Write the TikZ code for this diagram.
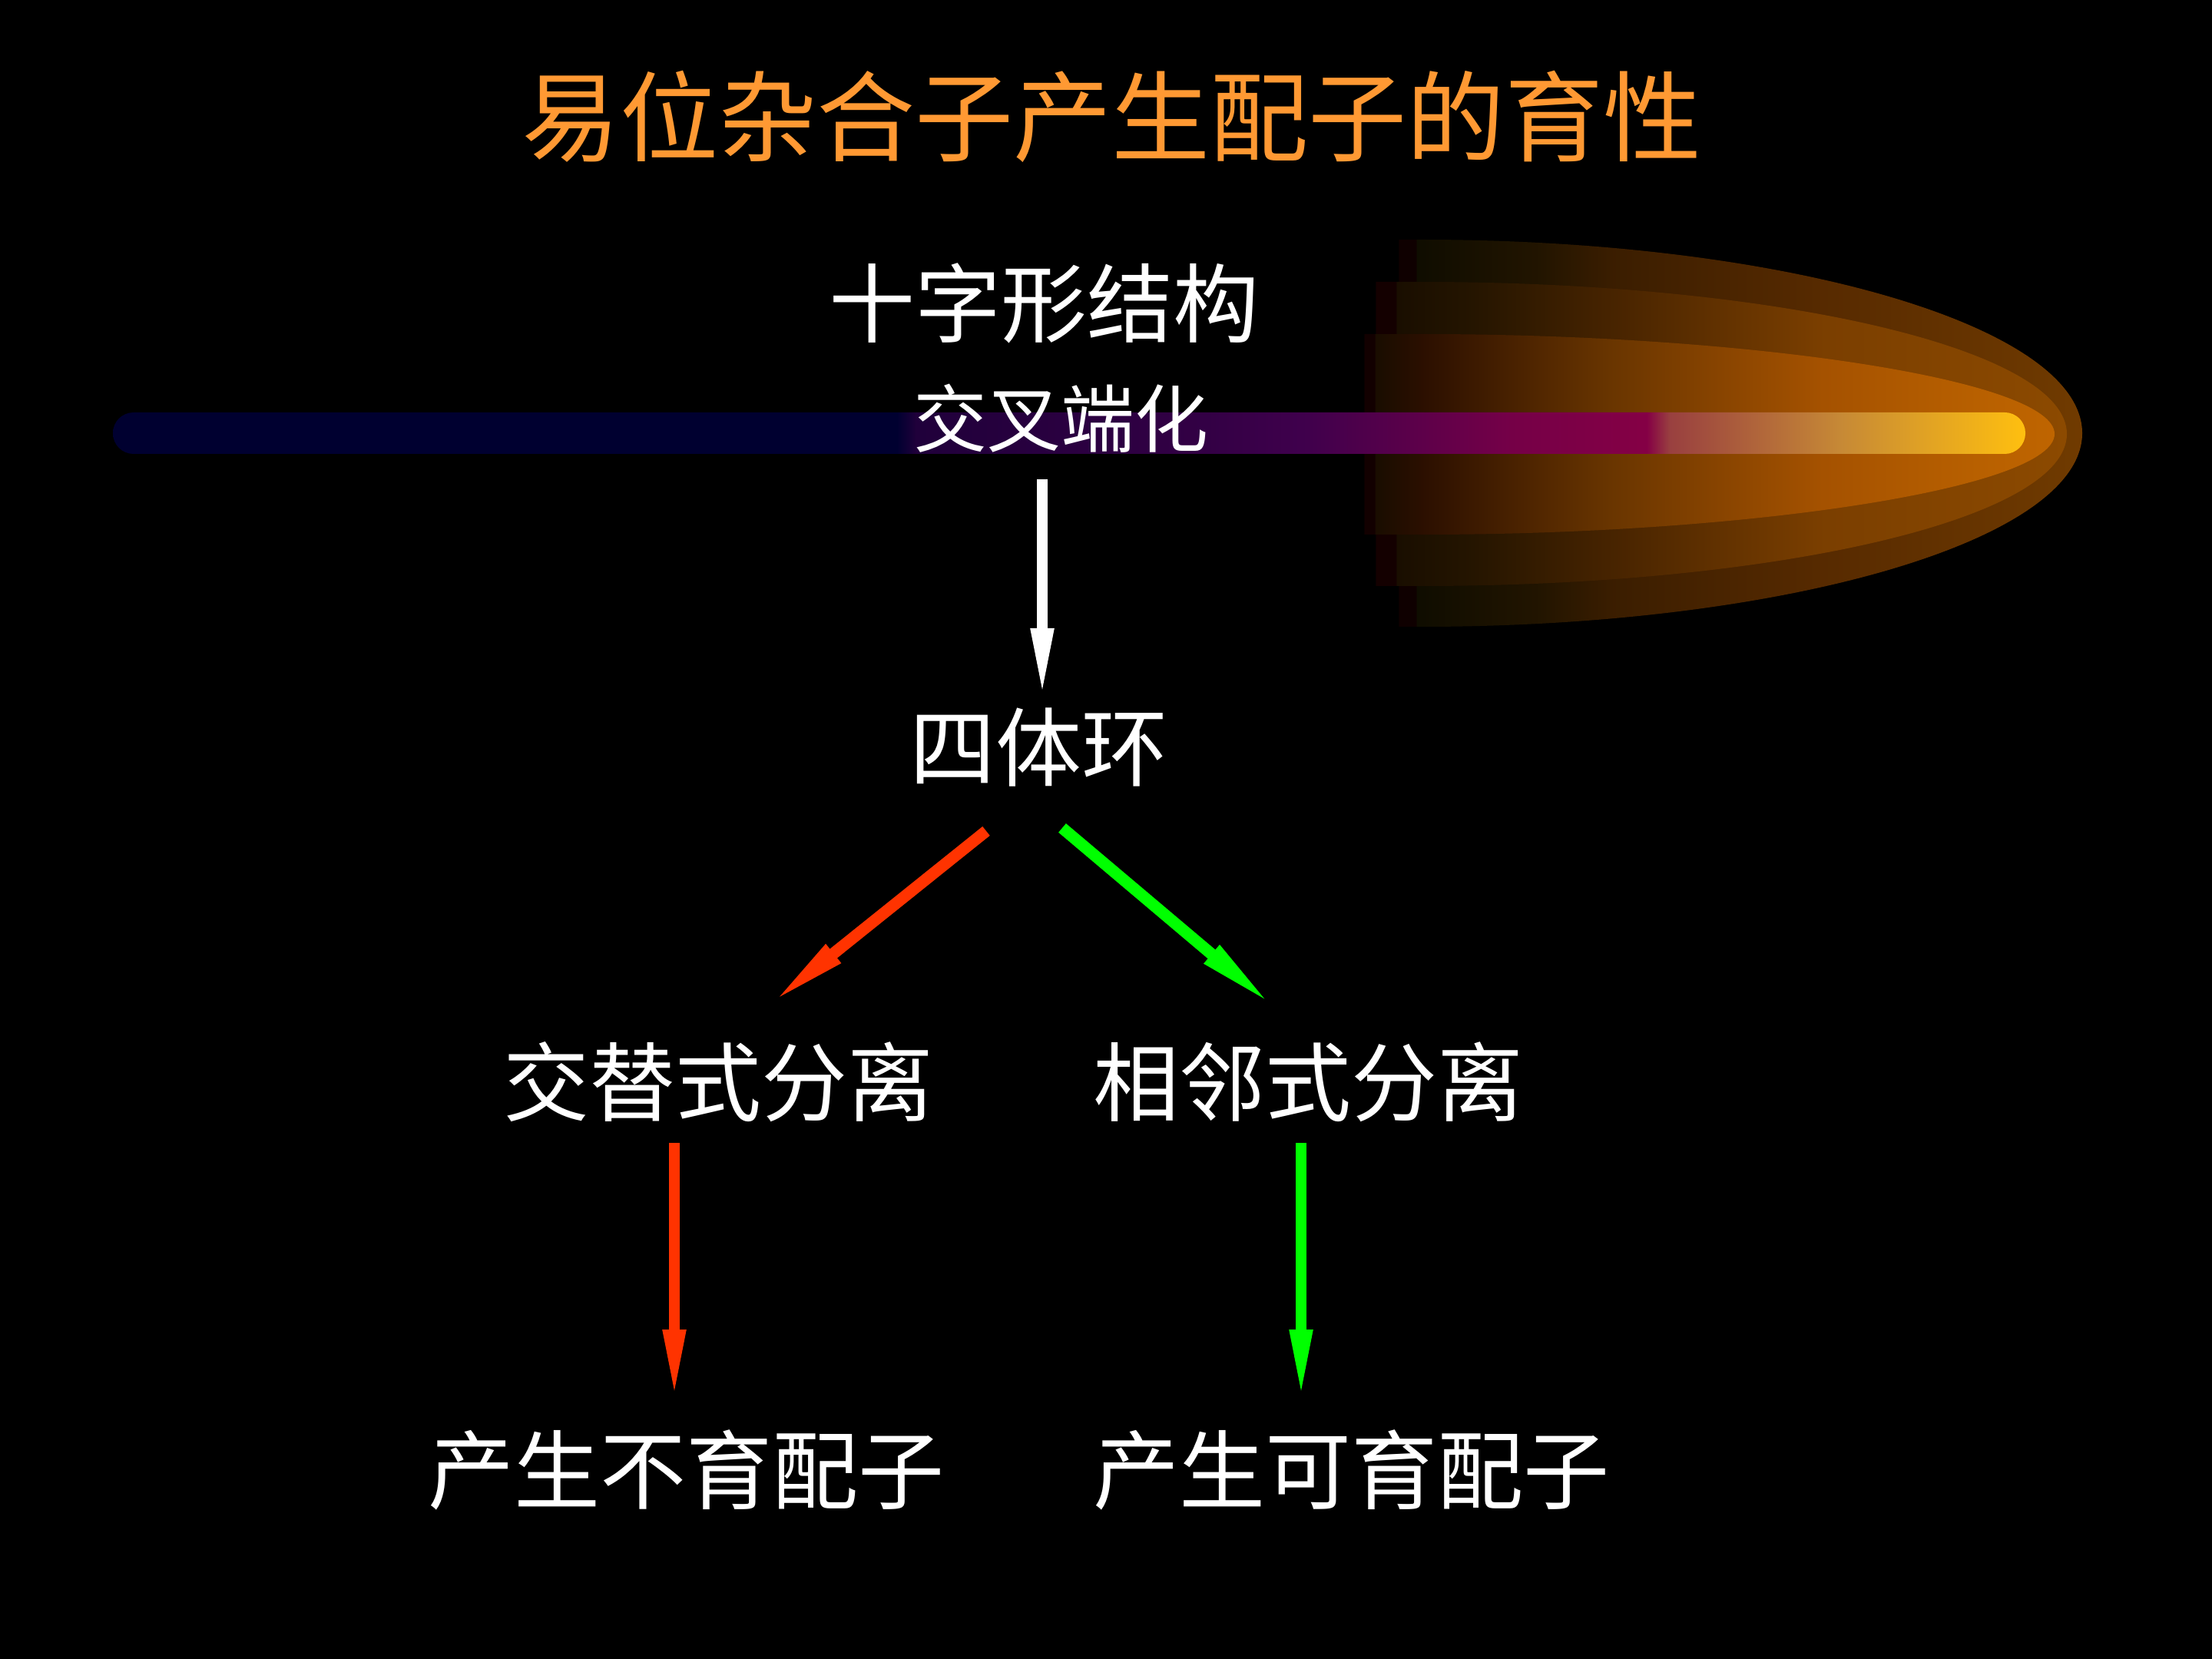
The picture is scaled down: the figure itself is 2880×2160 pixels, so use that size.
\documentclass[tikz,border=0pt]{standalone}
\usepackage{fontspec}
\usetikzlibrary{calc,arrows.meta}
\newfontfamily\cjk{Noto Sans CJK SC}

% Horizontal colour ramps for the glow layers and the streak
\definecolor{titleorange}{HTML}{FF9933}
\definecolor{arrred}{HTML}{FF3300}
\definecolor{arrgreen}{HTML}{00FF00}
\pgfdeclarehorizontalshading{glowouter}{100bp}{
  color(0bp)=(black); color(25bp)=(black!100);
  rgb(25.1bp)=(.06,0,0); rgb(26.3bp)=(.06,0,0); rgb(26.4bp)=(.06,.05,0);
  rgb(35.1bp)=(.13,.08,0); rgb(40.7bp)=(.23,.115,0);
  rgb(55.9bp)=(.34,.165,0); rgb(75bp)=(.44,.23,0); rgb(100bp)=(.44,.23,0)}
\pgfdeclarehorizontalshading{glowmiddle}{100bp}{
  color(0bp)=(black); color(25bp)=(black!100);
  rgb(25.1bp)=(.08,0,0); rgb(26.5bp)=(.08,0,0); rgb(26.6bp)=(.1,.055,0);
  rgb(31.7bp)=(.14,.08,0); rgb(42.2bp)=(.28,.14,0);
  rgb(57.2bp)=(.48,.245,0); rgb(75bp)=(.55,.29,0); rgb(100bp)=(.55,.29,0)}
\pgfdeclarehorizontalshading{glowinner}{100bp}{
  color(0bp)=(black); color(25bp)=(black!100);
  rgb(25.1bp)=(.07,0,0); rgb(25.8bp)=(.07,0,0); rgb(25.9bp)=(.1,.05,0);
  rgb(29.3bp)=(.17,.06,0); rgb(43.06bp)=(.415,.21,0);
  rgb(58.06bp)=(.645,.32,0); rgb(69.2bp)=(.72,.375,0); rgb(75bp)=(.75,.395,0);
  rgb(100bp)=(.75,.395,0)}
\pgfdeclarehorizontalshading{streak}{100bp}{
  rgb(0bp)=(0,0,.19); rgb(25bp)=(0,0,.19); rgb(45.5bp)=(0,0,.19);
  rgb(46bp)=(.125,0,.23); rgb(53.6bp)=(.2,0,.27); rgb(56.2bp)=(.25,0,.3);
  rgb(61.6bp)=(.46,0,.28); rgb(65.1bp)=(.52,0,.27); rgb(65.7bp)=(.6,.25,.25);
  rgb(70.2bp)=(.78,.54,.21); rgb(75bp)=(1,.75,.06); rgb(100bp)=(1,.75,.06)}

\tikzset{
  label28/.style={inner sep=0pt,text=white,font=\cjk\fontsize{28}{32}\selectfont},
  label24/.style={inner sep=0pt,text=white,font=\cjk\fontsize{24}{28}\selectfont},
  titletext/.style={inner sep=0pt,text=titleorange,font=\cjk\fontsize{32}{36}\selectfont},
  vertarrow/.style={line width=3.7pt,-{Triangle[length=24pt,width=6.6pt]}},
  diagarrow/.style={line width=3.8pt,-{Triangle[length=27pt,width=6.8pt]}},
}

\begin{document}
\begin{tikzpicture}[x=0.25pt,y=-0.25pt]
  \useasboundingbox (0,0) rectangle (2880,2160);
  \fill[black] (0,0) rectangle (2880,2160);

  % Nested glow around the head of the streak
  \path[shading=glowouter]
    (1820,312) -- (1850,312)
    .. controls (2325,312) and (2711,425) .. (2711,564)
    .. controls (2711,703) and (2325,816) .. (1850,816) -- (1820,816) -- cycle;
  \path[shading=glowmiddle]
    (1790,367) -- (1850,367)
    .. controls (2315,367) and (2691,455) .. (2691,565)
    .. controls (2691,675) and (2315,763) .. (1850,763) -- (1790,763) -- cycle;
  \path[shading=glowinner]
    (1775,435) -- (1853,435)
    .. controls (2280,435) and (2675,495) .. (2675,565)
    .. controls (2675,635) and (2280,696) .. (1853,696) -- (1775,696) -- cycle;

  % The streak itself
  \path[shading=streak,rounded corners=6.7pt] (147,537) rectangle (2637,591);

  % Labels
  \node[titletext] (title) at (1447,152) {易位杂合子产生配子的育性};
  \node[label28] (cross) at (1359,395) {十字形结构};
  \node[label24] (term) at (1381,545) {交叉端化};
  \node[label28] (tetrad) at (1352,973) {四体环};
  \node[label28] (alt) at (935,1409) {交替式分离};
  \node[label28] (adj) at (1703,1409) {相邻式分离};
  \node[label28] (sterile) at (893,1914) {产生不育配子};
  \node[label28] (fertile) at (1759,1914) {产生可育配子};

  % Connectors
  \draw[vertarrow,white] ($(cross.center)+(-2,229)$) -- ($(tetrad.center)+(5,-59)$);
  \draw[diagarrow,arrred] ($(tetrad.center)+(-68,109)$) -- ($(alt.center)+(66,-100)$);
  \draw[diagarrow,arrgreen] ($(tetrad.center)+(31,105)$) -- ($(adj.center)+(-43,-97)$);
  \draw[vertarrow,arrred] ($(alt.center)+(-57,79)$) -- ($(sterile.center)+(-15,-87)$);
  \draw[vertarrow,arrgreen] ($(adj.center)+(-9,79)$) -- ($(fertile.center)+(-65,-87)$);
\end{tikzpicture}
\end{document}
